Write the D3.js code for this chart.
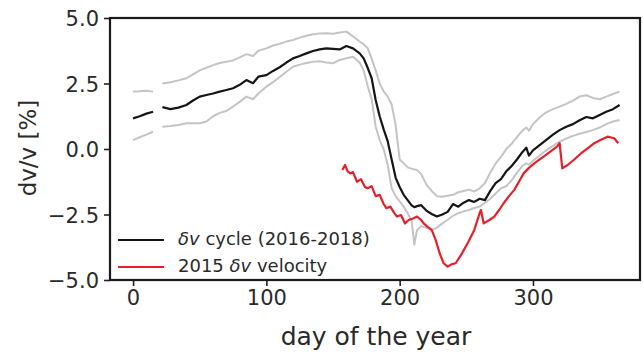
<!DOCTYPE html>
<html>
<head>
<meta charset="utf-8">
<script src="https://cdn.jsdelivr.net/npm/d3@7"></script>
<style>
  html, body { margin: 0; padding: 0; background: #fff; }
  svg { display: block; }
  text { font-family: "DejaVu Sans", "Noto Sans", sans-serif; fill: #2a2a2a; }
</style>
</head>
<body>
<svg id="chart" width="643" height="358"></svg>
<script>
// Seasonal dv/v cycle: day of year, mean and envelope (null = no data)
const cycleDays = [0, 5, 10, 15, 18, 22, 28, 34, 40, 45, 50, 55, 60, 65, 70, 75, 80, 85, 90, 94,
  100, 105, 110, 115, 120, 125, 130, 135, 140, 145, 150, 155, 160, 165, 170, 173, 176, 179, 182, 185,
  188, 191, 194, 197, 200, 203, 206, 209, 211, 213, 216, 220, 224, 228, 232, 236, 240, 244, 248, 252,
  256, 260, 264, 268, 272, 276, 280, 284, 288, 292, 295, 297, 300, 305, 310, 315, 320, 325, 330, 335,
  340, 345, 350, 355, 360, 365];
const cycleMean = [1.17, 1.25, 1.35, 1.42, null, 1.60, 1.52, 1.58, 1.68, 1.85, 2.00, 2.06, 2.12, 2.19, 2.25, 2.32, 2.45, 2.63, 2.51, 2.76,
  2.82, 2.98, 3.12, 3.30, 3.46, 3.55, 3.65, 3.74, 3.80, 3.84, 3.82, 3.80, 3.93, 3.84, 3.65, 3.46, 3.10, 2.70, 1.87, 1.25,
  0.75, 0.30, -0.40, -1.10, -1.45, -1.75, -1.95, -2.15, -2.22, -2.18, -2.14, -2.35, -2.48, -2.58, -2.50, -2.40, -2.10, -2.20, -2.05, -1.95,
  -2.02, -1.90, -1.95, -1.60, -1.30, -1.15, -0.85, -0.65, -0.40, -0.12, 0.05, -0.25, -0.05, 0.15, 0.35, 0.55, 0.72, 0.85, 0.95, 1.10,
  1.22, 1.17, 1.30, 1.42, 1.52, 1.68];
const cycleUpper = [2.19, 2.20, 2.22, 2.19, null, 2.50, 2.55, 2.62, 2.70, 2.85, 3.00, 3.10, 3.20, 3.28, 3.33, 3.38, 3.50, 3.62, 3.55, 3.75,
  3.84, 3.95, 4.02, 4.10, 4.16, 4.25, 4.32, 4.38, 4.41, 4.42, 4.40, 4.45, 4.48, 4.30, 4.10, 4.00, 3.85, 3.45, 3.00, 2.50,
  2.20, 2.00, 1.70, 0.90, -0.40, -0.55, -0.70, -0.75, -0.78, -0.80, -0.95, -1.35, -1.60, -1.80, -1.82, -1.78, -1.75, -1.65, -1.60, -1.55,
  -1.62, -1.50, -1.30, -0.90, -0.55, -0.30, 0.00, 0.20, 0.45, 0.70, 0.82, 0.70, 0.95, 1.20, 1.40, 1.52, 1.62, 1.72, 1.85, 2.00,
  2.05, 1.95, 1.90, 2.00, 2.10, 2.19];
const cycleLower = [0.34, 0.45, 0.55, 0.66, null, 0.85, 0.88, 0.92, 0.98, 0.98, 0.98, 1.05, 1.25, 1.38, 1.45, 1.62, 1.80, 2.00, 1.90, 2.12,
  2.38, 2.55, 2.75, 2.95, 3.14, 3.22, 3.28, 3.33, 3.35, 3.30, 3.27, 3.40, 3.46, 3.52, 3.30, 3.00, 2.40, 1.90, 0.85, 0.34,
  0.00, -0.60, -1.50, -1.80, -2.00, -2.20, -2.45, -2.75, -3.65, -3.10, -2.95, -3.00, -3.10, -3.00, -2.84, -2.70, -2.55, -2.45, -2.38, -2.33,
  -2.25, -2.20, -2.05, -1.90, -1.70, -1.50, -1.42, -1.20, -0.90, -0.65, -0.55, -0.60, -0.45, -0.25, -0.05, 0.12, 0.28, 0.40, 0.50, 0.58,
  0.65, 0.72, 0.82, 0.95, 1.05, 1.11];

// 2015 velocity change
const velDays = [157, 159, 161, 163, 165, 168, 171, 174, 176, 179, 182, 185, 188, 190, 193, 196, 198, 201, 204, 207,
  210, 213, 216, 218, 221, 224, 227, 230, 233, 236, 239, 242, 246, 251, 256, 260, 261, 263, 267, 271,
  275, 278, 282, 286, 290, 293, 297, 301, 305, 308, 313, 318, 320, 322, 326, 331, 336, 341, 346, 351,
  356, 361, 364];
const velValues = [-0.80, -0.61, -0.85, -0.93, -0.88, -1.25, -1.15, -1.45, -1.50, -1.42, -1.80, -1.75, -2.10, -2.26, -2.20, -2.45, -2.58, -2.52, -2.84, -2.70,
  -2.65, -2.58, -2.70, -2.84, -2.97, -3.09, -3.47, -3.98, -4.36, -4.49, -4.40, -4.36, -4.05, -3.60, -3.09, -2.45, -2.33, -2.84, -2.72, -2.58,
  -2.30, -2.07, -1.80, -1.56, -1.20, -0.93, -0.72, -0.55, -0.40, -0.29, -0.10, 0.09, 0.22, -0.74, -0.61, -0.40, -0.17, 0.02, 0.22, 0.35,
  0.47, 0.41, 0.22];

const xTicks = [0, 100, 200, 300];
const yTicks = [-5.0, -2.5, 0.0, 2.5, 5.0];

const svg = d3.select("#chart");
const plot = { left: 110, right: 640, top: 18, bottom: 280 };

const x = d3.scaleLinear().domain([-17.3, 380.3]).range([plot.left, plot.right]);
const y = d3.scaleLinear().domain([-5, 5]).range([plot.bottom, plot.top]);

const fmt = v => d3.format(".1f")(v).replace("-", "\u2212");

const line = d3.line()
  .defined(d => d[1] !== null)
  .x(d => x(d[0]))
  .y(d => y(d[1]));

const zip = (xs, ys) => xs.map((d, i) => [d, ys[i]]);

const g = svg.append("g");

// envelope, then mean, then 2015 series
[cycleUpper, cycleLower].forEach(vals => {
  g.append("path")
    .datum(zip(cycleDays, vals))
    .attr("fill", "none")
    .attr("stroke", "#c4c4c4")
    .attr("stroke-width", 2)
    .attr("stroke-linejoin", "round")
    .attr("d", line);
});

g.append("path")
  .datum(zip(cycleDays, cycleMean))
  .attr("fill", "none")
  .attr("stroke", "#151515")
  .attr("stroke-width", 2.2)
  .attr("stroke-linejoin", "round")
  .attr("d", line);

g.append("path")
  .datum(zip(velDays, velValues))
  .attr("fill", "none")
  .attr("stroke", "#e4212b")
  .attr("stroke-width", 2.2)
  .attr("stroke-linejoin", "round")
  .attr("d", line);

// axes
const xAxis = d3.axisBottom(x).tickValues(xTicks).tickSize(6).tickPadding(4).tickFormat(d3.format("d"));
const yAxis = d3.axisLeft(y).tickValues(yTicks).tickSize(6).tickPadding(5).tickFormat(fmt);

const gx = svg.append("g").attr("transform", `translate(0,${plot.bottom})`).call(xAxis);
const gy = svg.append("g").attr("transform", `translate(${plot.left},0)`).call(yAxis);
[gx, gy].forEach(a => {
  a.select(".domain").remove();
  a.selectAll(".tick line").attr("stroke", "#222").attr("stroke-width", 1.6);
  a.selectAll(".tick text").style("font-size", "21px").attr("fill", "#333");
});
gy.selectAll(".tick text").attr("dy", "0.36em");

// frame
svg.append("rect")
  .attr("x", plot.left).attr("y", plot.top)
  .attr("width", plot.right - plot.left).attr("height", plot.bottom - plot.top)
  .attr("fill", "none").attr("stroke", "#1a1a1a").attr("stroke-width", 2.2);

// axis titles
svg.append("text")
  .attr("x", 376)
  .attr("y", 345)
  .attr("text-anchor", "middle")
  .style("font-size", "25px")
  .text("day of the year");

svg.append("text")
  .attr("transform", `translate(36,148) rotate(-90)`)
  .attr("text-anchor", "middle")
  .style("font-size", "23px")
  .text("dv/v [%]");

// legend
const legend = svg.append("g").attr("transform", "translate(118,240)");
const items = [
  { color: "#151515", parts: [["\u03b4v", true], [" cycle (2016-2018)", false]] },
  { color: "#e4212b", parts: [["2015 ", false], ["\u03b4v", true], [" velocity", false]] }
];
items.forEach((it, i) => {
  const row = legend.append("g").attr("transform", `translate(0,${i * 27})`);
  row.append("line").attr("x1", 0).attr("x2", 46).attr("y1", 0).attr("y2", 0)
    .attr("stroke", it.color).attr("stroke-width", 2.2);
  const t = row.append("text").attr("x", 60).attr("y", 5).style("font-size", "18px");
  it.parts.forEach(([s, ital]) => {
    t.append("tspan").style("font-style", ital ? "italic" : "normal").text(s);
  });
});
</script>
</body>
</html>
